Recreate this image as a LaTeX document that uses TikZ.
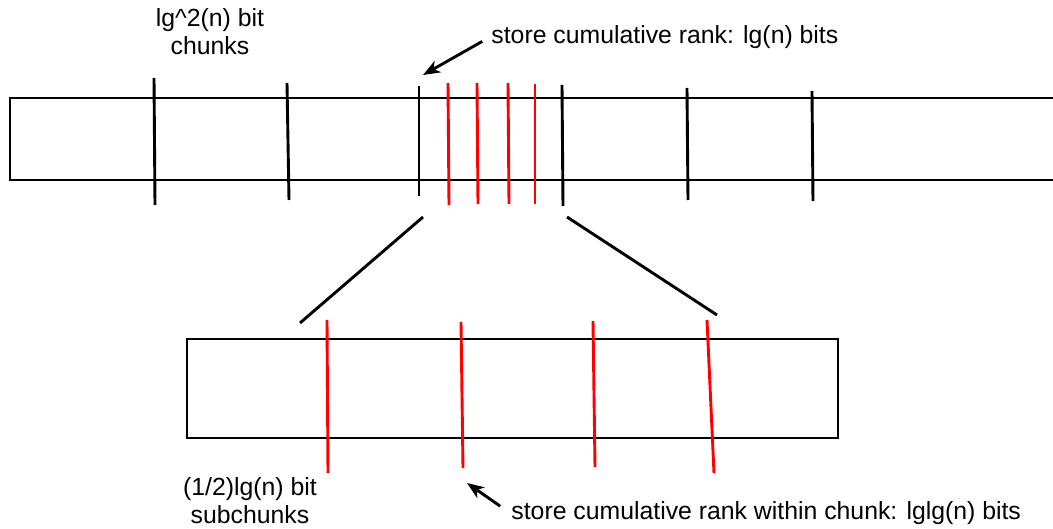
\documentclass[tikz,border=0pt]{standalone}
\usepackage{fontspec}
\setmainfont{Liberation Sans}
\usetikzlibrary{arrows.meta}

\begin{document}
\begin{tikzpicture}[x=1pt,y=-1pt,>={Stealth[length=17pt,width=13pt,inset=5pt]},line width=2.9pt,
  chunkline/.style={draw=black},
  subline/.style={draw=red},
  lbl/.style={font=\fontsize{24.8}{28}\selectfont,inner sep=0pt,align=center}]
  \useasboundingbox (0,0) rectangle (1053,529);

  % the whole bit vector, open at the right
  \draw (1053,98) -- (10,98) -- (10,180) -- (1053,180);

  % chunk boundaries
  \draw[chunkline] (154,78) -- (155,205);
  \draw[chunkline] (287,83) -- (289,200);
  \draw[chunkline] (419,86) -- (419,196);
  \draw[chunkline] (562,85) -- (563,206);
  \draw[chunkline] (687,88) -- (688,200);
  \draw[chunkline] (812,91) -- (813,201);

  % subchunk boundaries inside one chunk
  \draw[subline] (448,83) -- (449,205);
  \draw[subline] (477,83) -- (478,204);
  \draw[subline] (508,83) -- (509,204);
  \draw[subline] (535,84) -- (535,204);

  % zoom onto that chunk
  \draw (423,217) -- (300,323);
  \draw (567,217) -- (717,315);
  \draw (187,339) rectangle (838,438);
  \draw[subline] (327,320) -- (328,473);
  \draw[subline] (461,322) -- (463,468);
  \draw[subline] (593,321) -- (595,467);
  \draw[subline] (707,320) -- (714,473);

  % labels
  \node[lbl] (chunks) at (210,32) {lg\textasciicircum2(n) bit\\chunks};
  \node[lbl,anchor=west] (rank) at (490,37) {store cumulative rank: lg(n) bits};
  \node[lbl] (subchunks) at (250,501) {(1/2)lg(n) bit\\subchunks};
  \node[lbl,anchor=west] (within) at (510,513) {store cumulative rank within chunk: lglg(n) bits};

  \coordinate (rankTip) at (423,75);
  \coordinate (withinTip) at (467,483);
  \draw[->,shorten <=9pt] (rank.west) -- (rankTip);
  \draw[->,shorten <=12pt] (within.west) -- (withinTip);
\end{tikzpicture}
\end{document}
